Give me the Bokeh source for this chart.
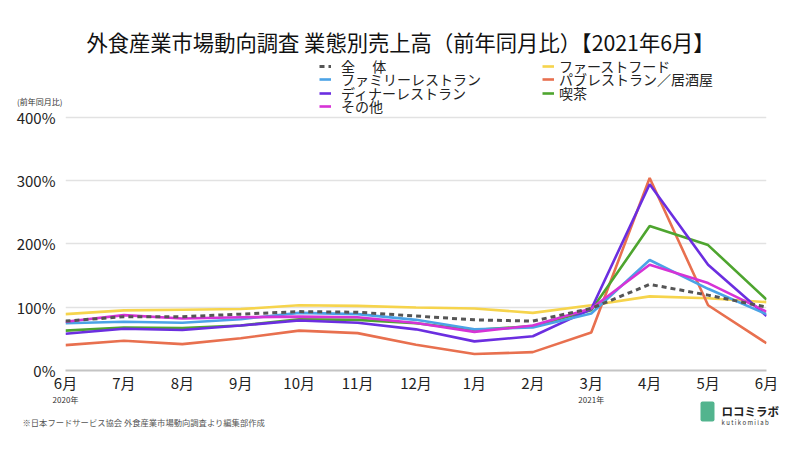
from bokeh.plotting import figure
from bokeh.models import Range1d, Label, Legend, LegendItem, FixedTicker, LinearAxis
from bokeh.layouts import column
from bokeh.embed import file_html
from bokeh.resources import INLINE

FONT = "Noto Sans CJK JP"

months = ["6月", "7月", "8月", "9月", "10月", "11月", "12月", "1月", "2月", "3月", "4月", "5月", "6月"]
years = {0: "2020年", 9: "2021年"}
y_ticks = [0, 100, 200, 300, 400]

overall = [78, 85, 85, 89, 93, 92, 86, 80, 78, 98, 136, 119, 100]
fast_food = [89, 95, 96, 97, 103, 102, 99.5, 98, 91, 103, 117, 114, 108]
family = [74.5, 77, 75.5, 81, 91, 89, 80, 65, 68, 90, 174.5, 129, 89]
pub = [40, 47, 41.6, 51, 63, 59, 40.6, 26, 29, 60, 304, 103, 43]
dinner = [58, 66, 64, 71, 79, 75.5, 65, 46, 54, 97, 294, 167, 86]
cafe = [63, 68, 67, 71, 81, 80, 74.5, 64, 70, 95, 228, 198, 112]
other = [77, 87.5, 82, 84, 85, 84, 75, 61, 71, 98, 167, 138, 93]

names = ["全　 体", "ファーストフード", "ファミリーレストラン", "パブレストラン／居酒屋",
         "ディナーレストラン", "喫茶", "その他"]
colors = ["#555555", "#f6d44c", "#4ba3e6", "#e8704f", "#6b2ee0", "#4ea52f", "#d633d6"]

W = 800
H1 = 395          # main figure height (page y 0..395)
FL, FR, FT, FB = 65, 766, 0, 371   # frame in page pixels
YMAX = 400 * (FB - FT) / (FB - 117)  # 400% sits at page y 117

p = figure(width=W, height=H1, output_backend="svg", toolbar_location=None,
           x_range=Range1d(0, 12), y_range=Range1d(0, YMAX),
           min_border_left=FL, min_border_right=W - FR,
           min_border_top=FT, min_border_bottom=H1 - FB)
p.frame_align = False
p.outline_line_color = None
p.background_fill_color = "white"
p.border_fill_color = "white"

xs = list(range(len(months)))

def px(X):
    return (X - FL) / (FR - FL) * 12

def py(Y):
    return (FB - Y) / (FB - FT) * YMAX

order = [(fast_food, 1), (pub, 3), (cafe, 5), (dinner, 4), (family, 2), (other, 6)]
renderers = {}
for s, i in order:
    renderers[i] = p.line(xs, s, line_color=colors[i], line_width=2.6)
renderers[0] = p.line(xs, overall, line_color=colors[0], line_width=3, line_dash="5 4")

# x axis (months)
xax = p.xaxis[0]
xax.ticker = FixedTicker(ticks=xs)
xax.major_label_overrides = {i: m for i, m in enumerate(months)}
xax.major_tick_line_color = None
xax.minor_tick_line_color = None
xax.major_tick_out = 0
xax.major_tick_in = 0
xax.minor_tick_out = 0
xax.minor_tick_in = 0
xax.axis_line_color = "#c4c4c4"
xax.axis_line_width = 2
xax.major_label_text_font = FONT
xax.major_label_text_font_size = "15px"
xax.major_label_text_color = "#222222"
xax.major_label_standoff = 1

# y axis (percent)
yticker = FixedTicker(ticks=y_ticks)
yax = p.yaxis[0]
yax.ticker = yticker
yax.major_label_overrides = {t: f"{t}%" for t in y_ticks}
yax.major_tick_line_color = None
yax.minor_tick_line_color = None
yax.major_tick_out = 0
yax.major_tick_in = 0
yax.minor_tick_out = 0
yax.minor_tick_in = 0
yax.axis_line_color = None
yax.major_label_text_font = FONT
yax.major_label_text_font_size = "15px"
yax.major_label_text_color = "#222222"
yax.major_label_standoff = 10
p.ygrid.ticker = yticker
p.xgrid.grid_line_color = None
p.ygrid.grid_line_color = "#e2e2e2"
p.ygrid.grid_line_width = 1.5

# unit caption as a second left axis
unit_pos = 425
ax2 = LinearAxis(ticker=FixedTicker(ticks=[unit_pos]),
                 major_label_overrides={unit_pos: "(前年同月比)"},
                 major_tick_line_color=None, minor_tick_line_color=None,
                 major_tick_out=0, major_tick_in=0, minor_tick_out=0, minor_tick_in=0,
                 axis_line_color=None, major_label_text_font=FONT,
                 major_label_text_font_size="8px", major_label_text_color="#333333",
                 major_label_standoff=-49)
p.add_layout(ax2, "left")

# legend: one single-row legend per entry
rows = [67.7, 81.2, 94.7, 108.3]
pos = {0: (319, rows[0], 10), 2: (319, rows[1], 10), 4: (319, rows[2], 10), 6: (319, rows[3], 10),
       1: (542, rows[0], 5), 3: (542, rows[1], 5), 5: (542, rows[2], 5)}
LH = 20
for i in range(7):
    X, Yc, so = pos[i]
    leg = Legend(items=[LegendItem(label=names[i], renderers=[renderers[i]])],
                 location=(X - FL, FB - (Yc + 9)),
                 label_text_font=FONT, label_text_font_size="14px",
                 label_text_color="#222222", label_height=LH, glyph_height=LH,
                 glyph_width=12, label_standoff=so, spacing=0, padding=0, margin=0,
                 background_fill_alpha=0, border_line_color=None)
    p.add_layout(leg, "center")

p.add_layout(Label(x=px(400), y=py(41), text="外食産業市場動向調査 業態別売上高（前年同月比）【2021年6月】",
                   text_font=FONT, text_font_size="21.3px", text_color="#111111",
                   text_align="center", text_baseline="middle"))

# bottom strip: years, source note, logo
H2 = 450 - H1
q = figure(width=W, height=H2, output_backend="svg", toolbar_location=None,
           x_range=Range1d(0, W), y_range=Range1d(H2, 0),
           min_border=0, x_axis_location=None, y_axis_location=None)
q.frame_align = False
q.outline_line_color = None
q.grid.visible = False
q.background_fill_color = "white"
q.border_fill_color = "white"

def lab(fig, X, Y, text, size, color="#222222", align="left", style="normal"):
    fig.add_layout(Label(x=X, y=Y - H1, text=text, text_font=FONT, text_font_size=size,
                         text_color=color, text_align=align, text_baseline="middle",
                         text_font_style=style))

for k, t in years.items():
    lab(q, FL + (FR - FL) / 12 * k, 399, t, "8px", "#333333", "center")
lab(q, 22, 421, "※日本フードサービス協会 外食産業市場動向調査より編集部作成", "8.3px", "#555555")
q.add_layout(Label(x=700, y=411 - H1, text="　", text_font=FONT, text_font_size="14px",
                   text_baseline="middle", text_align="left",
                   background_fill_color="#52b48e", border_radius=2))
lab(q, 721, 410, "ロコミラボ", "11.5px", "#222222", style="bold")
lab(q, 721, 422, "k u t i k o m i   l a b", "6px", "#333333")

open("out.html", "w").write(file_html(column(p, q, spacing=0), INLINE))
